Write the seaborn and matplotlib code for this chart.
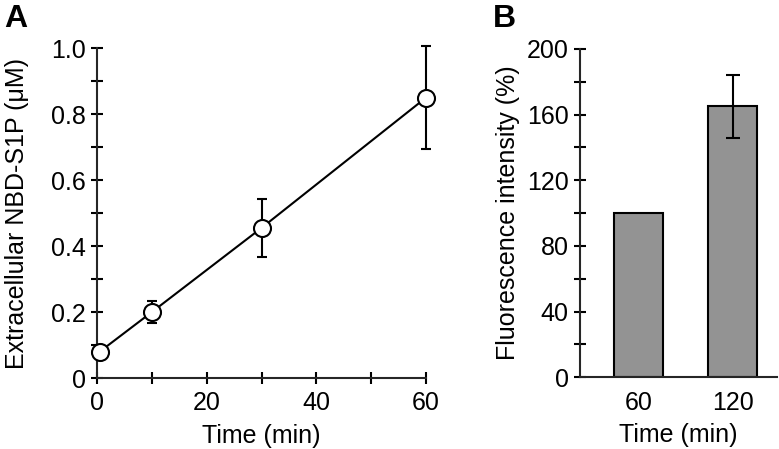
import numpy as np
import pandas as pd
import matplotlib
matplotlib.use('Agg')
import matplotlib.pyplot as plt
import seaborn as sns
from matplotlib.ticker import MultipleLocator

sns.set_style('ticks')
plt.rcParams['font.family'] = ['Liberation Sans', 'DejaVu Sans']
plt.rcParams['font.size'] = 18
plt.rcParams['text.color'] = 'black'
plt.rcParams['axes.labelcolor'] = 'black'

# Panel A data
time_a = [0.5, 10, 30, 60]
s1p = [0.08, 0.20, 0.455, 0.85]
s1p_err = [0.02, 0.033, 0.087, 0.155]

# Panel B data
time_b = ['60', '120']
fluor = [100, 165]
fluor_err = [0, 19]

df_a = pd.DataFrame({'time': time_a, 's1p': s1p, 'err': s1p_err})
df_b = pd.DataFrame({'time': time_b, 'fluor': fluor, 'err': fluor_err})

fig = plt.figure(figsize=(7.79, 4.49), dpi=100)
axA = fig.add_axes([0.1245, 0.158, 0.4225, 0.735])
axB = fig.add_axes([0.7445, 0.16, 0.253, 0.731])

lw = 1.5
fs = 18
for ax in (axA, axB):
    sns.despine(ax=ax)
    ax.spines['left'].set_linewidth(lw)
    ax.spines['bottom'].set_linewidth(lw)
    ax.tick_params(which='both', direction='inout', width=lw, length=9, labelsize=fs, colors='black')

# ---- Panel A ----
sns.lineplot(data=df_a, x='time', y='s1p', ax=axA, color='black', lw=1.5, zorder=2)
axA.errorbar(df_a['time'], df_a['s1p'], yerr=df_a['err'], fmt='none', ecolor='black',
             elinewidth=1.5, capsize=3.5, capthick=1.5, zorder=3, clip_on=False)
sns.scatterplot(data=df_a, x='time', y='s1p', ax=axA, s=150, color='white',
                edgecolor='black', linewidth=1.5, zorder=4, clip_on=False)
axA.set_xlim(0, 60)
axA.set_ylim(0, 1.0)
axA.xaxis.set_major_locator(MultipleLocator(20))
axA.xaxis.set_minor_locator(MultipleLocator(10))
axA.yaxis.set_minor_locator(MultipleLocator(0.1))
axA.set_yticks([0, 0.2, 0.4, 0.6, 0.8, 1.0])
axA.set_yticklabels(['0', '0.2', '0.4', '0.6', '0.8', '1.0'])
axA.tick_params(axis='x', pad=5)
axA.set_xlabel('Time (min)', fontsize=fs, labelpad=6)
axA.set_ylabel('Extracellular NBD-S1P (μM)', fontsize=fs, labelpad=16)

# ---- Panel B ----
sns.barplot(data=df_b, x='time', y='fluor', ax=axB, color='#939393', width=0.52,
            edgecolor='black', linewidth=1.5, saturation=1, errorbar=None)
axB.errorbar([1], [fluor[1]], yerr=[fluor_err[1]], fmt='none', ecolor='black',
             elinewidth=1.5, capsize=5, capthick=1.5)
axB.set_xlim(-0.62, 1.47)
axB.set_ylim(0, 200)
axB.yaxis.set_major_locator(MultipleLocator(40))
axB.yaxis.set_minor_locator(MultipleLocator(20))
axB.tick_params(axis='x', length=0, pad=10)
axB.set_xlabel('Time (min)', fontsize=fs, labelpad=6)
axB.set_ylabel('Fluorescence intensity (%)', fontsize=fs, labelpad=5)

fig.text(0.005, 0.94, 'A', fontsize=23, fontweight='bold')
fig.text(0.633, 0.94, 'B', fontsize=23, fontweight='bold')

plt.savefig('out.png', dpi=100)
